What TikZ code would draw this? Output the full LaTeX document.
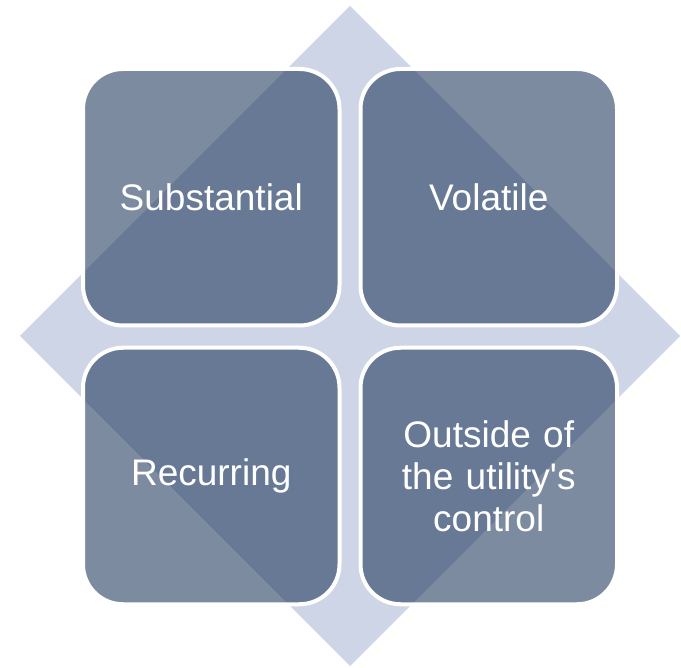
\documentclass[tikz,border=0pt]{standalone}
\usepackage{fontspec}
\newfontfamily\boxfont{Liberation Sans}
\usetikzlibrary{shapes.geometric}
\definecolor{diamondfill}{HTML}{CDD5E6}
\definecolor{boxfill}{HTML}{1F375B}
\tikzset{
  quadbox/.style={draw=white, line width=4pt, fill=boxfill, fill opacity=0.58,
    text opacity=1, draw opacity=1, rounded corners=40pt,
    minimum width=256.5pt, minimum height=256.5pt, inner sep=0pt,
    text=white, font=\boxfont\fontsize{37}{42}\selectfont, align=center, text width=240pt},
}
\begin{document}
\begin{tikzpicture}[x=1pt,y=-1pt]
\useasboundingbox (0,0) rectangle (681,668);
\fill[diamondfill] (350,6) coordinate (dt) -- (680,336) coordinate (dr) -- (350,666) coordinate (db) -- (20,336) coordinate (dl) -- cycle;
\node[quadbox] (tl) at (211.25,197.25) {Substantial};
\node[quadbox] (tr) at (488.75,197.25) {Volatile};
\node[quadbox] (bl) at (211.25,476) {Recurring};
\node[quadbox] (br) at (488.75,476) {Outside of\\the utility's\\control};
\end{tikzpicture}
\end{document}
